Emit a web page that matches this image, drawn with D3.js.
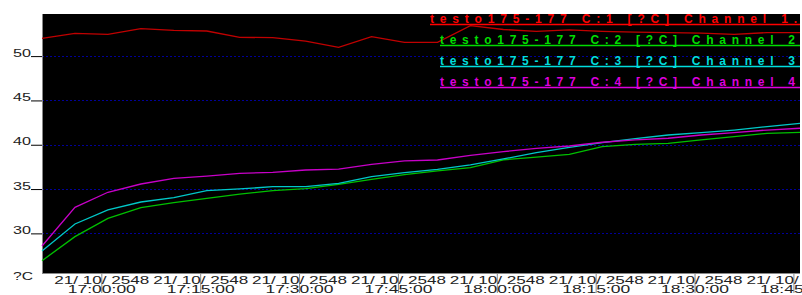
<!DOCTYPE html>
<html>
<head>
<meta charset="utf-8">
<script src="https://cdn.jsdelivr.net/npm/d3@7"></script>
<style>
  html, body { margin: 0; padding: 0; background: #fff; }
  svg { display: block; font-family: "Liberation Sans", Arial, sans-serif; }
</style>
</head>
<body>
<svg id="chart"></svg>
<script>
// sample times (21/10/2548), one reading every 5 minutes
var times = ["16:51","16:56","17:01","17:06","17:11","17:16","17:21","17:26",
             "17:31","17:36","17:41","17:46","17:51","17:56","18:01","18:06",
             "18:11","18:16","18:21","18:26","18:31","18:36","18:41","18:46"];

var ch1 = [52.0, 52.57, 52.46, 53.09, 52.9, 52.83, 52.12, 52.08, 51.7, 50.99, 52.19, 51.56,
           51.56, 53.43, 53.0, 52.8, 52.97, 52.8, 52.7, 52.65, 52.6, 52.46, 52.65, 52.65];
var ch2 = [26.92, 29.63, 31.7, 32.9, 33.46, 33.96, 34.44, 34.82, 35.04, 35.54, 36.1, 36.62,
           37.04, 37.41, 38.3, 38.6, 38.92, 39.78, 40.05, 40.16, 40.54, 40.91, 41.29, 41.4];
var ch3 = [28.0, 31.06, 32.64, 33.54, 34.03, 34.82, 35.01, 35.27, 35.27, 35.65, 36.4, 36.85,
           37.23, 37.72, 38.4, 39.1, 39.71, 40.23, 40.68, 41.1, 41.36, 41.66, 42.04, 42.42];
var ch4 = [28.58, 32.94, 34.64, 35.57, 36.21, 36.47, 36.78, 36.89, 37.15, 37.26, 37.79, 38.17,
           38.28, 38.81, 39.22, 39.6, 39.86, 40.28, 40.54, 40.73, 41.1, 41.36, 41.66, 41.86];

var seriesNames = ["testo175-177 C:1 [?C] Channel 1.",
                   "testo175-177 C:2 [?C] Channel 2",
                   "testo175-177 C:3 [?C] Channel 3",
                   "testo175-177 C:4 [?C] Channel 4"];

var yTicks = [30, 35, 40, 45, 50];
var xTicks = ["17:00","17:15","17:30","17:45","18:00","18:15","18:30","18:45"];
var dateLabel = "21/ 10/ 2548";

// size (plot area inside the svg)
var width = 802, height = 295;
var plotL = 42, plotR = 800, plotT = 14, plotB = 273;

var lineColours = ["#c00000", "#00c000", "#00c8c8", "#c800c8"];
var legendColours = ["#ff0000", "#00dd00", "#00dddd", "#dd00dd"];

var parseTime = function (s) {
  var p = s.split(":");
  return new Date(2005, 9, 21, +p[0], +p[1]);
};

var svg = d3.select("#chart")
  .attr("width", width)
  .attr("height", height);

var x = d3.scaleTime()
  .domain([parseTime(times[0]), parseTime(times[times.length - 1])])
  .range([plotL, plotR]);

var y = d3.scaleLinear()
  .domain([25.53, 54.75])
  .range([plotB, plotT]);

// plot background
svg.append("rect")
  .attr("x", plotL).attr("y", plotT)
  .attr("width", plotR - plotL).attr("height", plotB - plotT)
  .attr("fill", "#000");

// grid lines
svg.append("g")
  .selectAll("line")
  .data(yTicks)
  .enter().append("line")
  .attr("x1", plotL).attr("x2", plotR)
  .attr("y1", function (d) { return Math.round(y(d)) + 0.5; })
  .attr("y2", function (d) { return Math.round(y(d)) + 0.5; })
  .attr("stroke", "#00009a")
  .attr("stroke-dasharray", "2,2");

// y axis
var yAxis = svg.append("g")
  .attr("transform", "translate(" + plotL + ",0)")
  .call(d3.axisLeft(y).tickValues(yTicks).tickSize(11).tickPadding(0));
yAxis.select(".domain").remove();
yAxis.selectAll(".tick line").attr("stroke", "#000");
yAxis.selectAll(".tick text")
  .attr("x", -11)
  .attr("dy", 0)
  .attr("fill", "#222")
  .style("font-size", "10.5px")
  .attr("textLength", 18)
  .attr("lengthAdjust", "spacingAndGlyphs");

svg.append("text")
  .attr("x", 13).attr("y", 280)
  .attr("fill", "#222")
  .style("font-size", "10.5px")
  .attr("textLength", 20)
  .attr("lengthAdjust", "spacingAndGlyphs")
  .text("?C");

// x axis
var xAxis = svg.append("g")
  .attr("transform", "translate(0," + plotB + ")")
  .call(d3.axisBottom(x).tickValues(xTicks.map(parseTime)).tickSize(20).tickFormat(""));
xAxis.select(".domain").remove();
xAxis.selectAll(".tick line").attr("stroke", "#888").attr("stroke-width", 1);

var xLab = xAxis.selectAll(".tick").append("g").attr("class", "lab");
xLab.append("text")
  .attr("y", 11)
  .attr("text-anchor", "middle")
  .attr("fill", "#222")
  .style("font-size", "11px")
  .attr("textLength", 95)
  .attr("lengthAdjust", "spacingAndGlyphs")
  .text(dateLabel);
xLab.append("text")
  .attr("y", 20)
  .attr("text-anchor", "middle")
  .attr("fill", "#222")
  .style("font-size", "11px")
  .attr("textLength", 68)
  .attr("lengthAdjust", "spacingAndGlyphs")
  .text(function (d) { return d3.timeFormat("%H:%M:%S")(d); });

// plot border (left and bottom)
svg.append("line")
  .attr("x1", plotL + 0.5).attr("x2", plotL + 0.5)
  .attr("y1", plotT).attr("y2", plotB)
  .attr("stroke", "#888");
svg.append("line")
  .attr("x1", plotL).attr("x2", plotR)
  .attr("y1", plotB + 0.5).attr("y2", plotB + 0.5)
  .attr("stroke", "#888");

// series lines
var allSeries = [ch1, ch2, ch3, ch4];
var line = d3.line()
  .x(function (d, i) { return x(parseTime(times[i])); })
  .y(function (d) { return y(d); });

svg.append("g")
  .selectAll("path")
  .data(allSeries)
  .enter().append("path")
  .attr("d", line)
  .attr("fill", "none")
  .attr("stroke", function (d, i) { return lineColours[i]; })
  .attr("stroke-width", 1.3);

// legend
var legendStart = [430, 440, 440, 440];
var legendLen = [367, 355, 355, 355];
var legend = svg.append("g")
  .selectAll("g")
  .data(seriesNames)
  .enter().append("g")
  .attr("transform", function (d, i) { return "translate(0," + (23 + i * 21) + ")"; });

legend.append("text")
  .attr("x", function (d, i) { return legendStart[i]; })
  .attr("fill", function (d, i) { return legendColours[i]; })
  .style("font-size", "12px")
  .style("font-weight", "bold")
  .attr("textLength", function (d, i) { return legendLen[i]; })
  .attr("lengthAdjust", "spacing")
  .text(function (d) { return d; });

legend.append("line")
  .attr("x1", function (d, i) { return legendStart[i]; })
  .attr("x2", plotR)
  .attr("y1", 1.5).attr("y2", 1.5)
  .attr("stroke", function (d, i) { return legendColours[i]; })
  .attr("stroke-width", 1.5);
</script>
</body>
</html>
